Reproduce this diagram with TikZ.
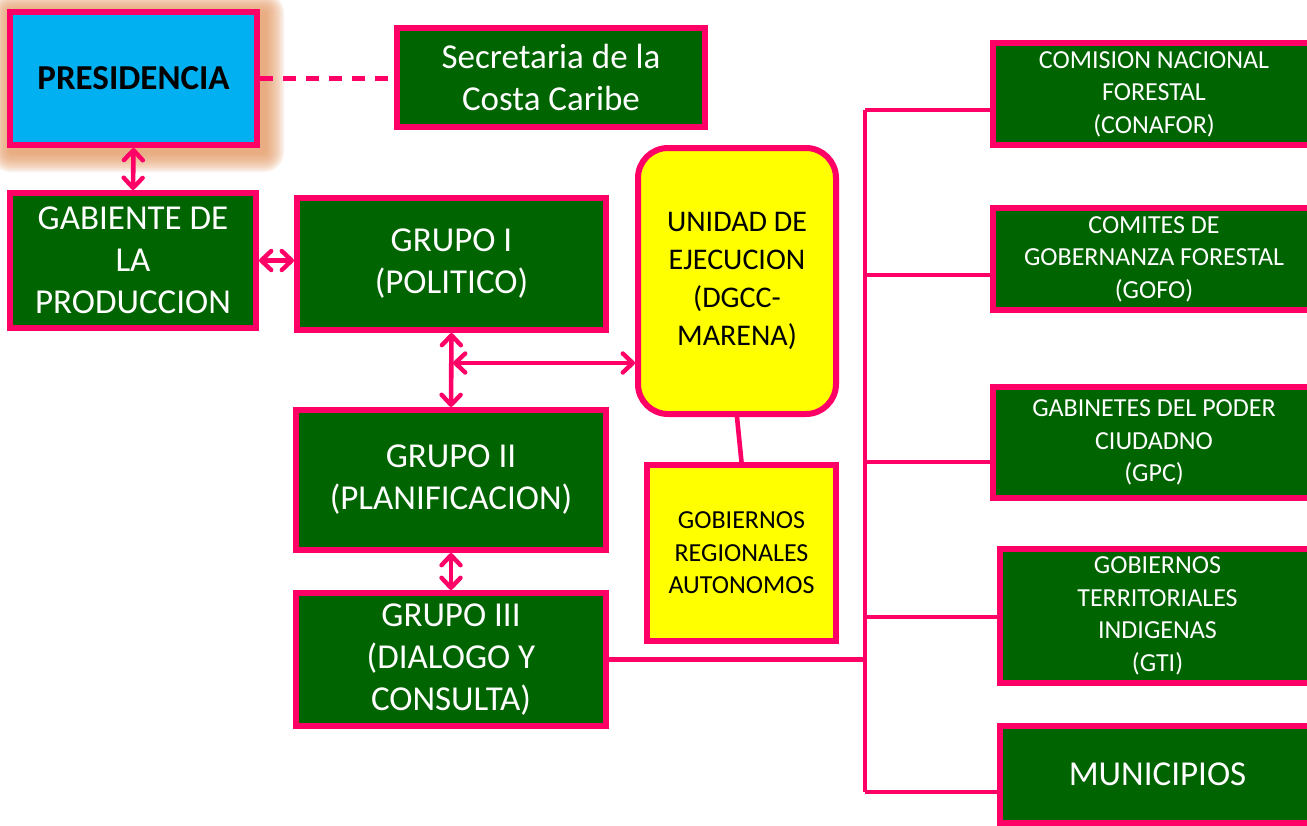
\documentclass[tikz,border=0pt]{standalone}
\usepackage{fontspec}
\setmainfont{Carlito}
\usetikzlibrary{arrows.meta,shadows,backgrounds}

\definecolor{rosa}{RGB}{255,0,102}
\definecolor{verde}{RGB}{0,100,0}
\definecolor{celeste}{RGB}{0,176,240}
\definecolor{amarillo}{RGB}{255,255,0}
\definecolor{brillo}{RGB}{226,150,95}

\newcommand{\letragrande}{\fontsize{35}{42}\selectfont}
\newcommand{\letramedia}{\fontsize{30}{38}\selectfont}
\newcommand{\letrachica}{\fontsize{26}{32.5}\selectfont}

\tikzset{
  caja/.style={draw=rosa, line width=6pt, inner sep=0pt, align=center},
  verdebox/.style={caja, fill=verde, text=white,
    drop shadow={shadow xshift=3pt, shadow yshift=-3pt, opacity=0.3}},
  amarillobox/.style={caja, fill=amarillo, text=black},
  enlace/.style={rosa, line width=4.6pt},
  doble/.style={enlace,
    {Straight Barb[length=10pt,width=19pt,line width=4.4pt,round]}-{Straight Barb[length=10pt,width=19pt,line width=4.4pt,round]}},
}

\begin{document}
\begin{tikzpicture}[x=1pt, y=-1pt]
        \useasboundingbox (0,0) rectangle (1307,825);

        % columna izquierda
        \node[caja, fill=celeste, minimum width=247pt, minimum height=133pt, font=\letragrande\bfseries] (pres) at (133.5,78.5) {PRESIDENCIA};
        \node[verdebox, minimum width=308pt, minimum height=99pt, font=\letragrande] (secr) at (551,77.5) {Secretaria de la\\Costa Caribe};
        \node[verdebox, minimum width=246pt, minimum height=135pt, font=\letragrande] (gab) at (133,260.5) {GABIENTE DE\\LA\\PRODUCCION};

        % grupos
        \node[verdebox, minimum width=309pt, minimum height=132pt, font=\letragrande] (grupoI) at (451.5,264) {GRUPO I\\(POLITICO)};
        \node[verdebox, minimum width=310pt, minimum height=140pt, font=\letragrande] (grupoII) at (451,480) {GRUPO II\\(PLANIFICACION)};
        \node[verdebox, minimum width=310pt, minimum height=133pt, font=\letragrande] (grupoIII) at (451,659.5) {GRUPO III\\(DIALOGO Y\\CONSULTA)};

        % unidad y gobiernos regionales
        \node[amarillobox, rounded corners=30pt, minimum width=198pt, minimum height=266pt, font=\letramedia] (unidad) at (737,281) {UNIDAD DE\\EJECUCION\\(DGCC-\\MARENA)};
        \node[amarillobox, minimum width=189pt, minimum height=176pt, font=\letrachica] (gra) at (741.5,553) {GOBIERNOS\\REGIONALES\\AUTONOMOS};

        % columna derecha
        \node[verdebox, minimum width=322pt, minimum height=102pt, font=\letrachica] (conafor) at (1154,94) {COMISION NACIONAL\\FORESTAL\\(CONAFOR)};
        \node[verdebox, minimum width=322pt, minimum height=102pt, font=\letrachica] (gofo) at (1154,259) {COMITES DE\\GOBERNANZA FORESTAL\\(GOFO)};
        \node[verdebox, minimum width=322pt, minimum height=111pt, font=\letrachica] (gpc) at (1154,442.5) {GABINETES DEL PODER\\CIUDADNO\\(GPC)};
        \node[verdebox, minimum width=315pt, minimum height=134pt, font=\letrachica] (gti) at (1157.5,616) {GOBIERNOS\\TERRITORIALES\\INDIGENAS\\(GTI)};
        \node[verdebox, minimum width=315pt, minimum height=97pt, font=\letragrande] (muni) at (1157.5,774.5) {MUNICIPIOS};

        % brillo de presidencia
        \begin{scope}[on background layer]
            \foreach \g in {2,4,...,20}
                \fill[brillo, opacity=0.14, rounded corners=\g pt]
                    ([xshift=-\g pt+4pt, yshift=\g pt-4pt]pres.north west) rectangle
                    ([xshift=\g pt+4pt, yshift=-\g pt-4pt]pres.south east);
        \end{scope}

        % conexiones
        \draw[enlace, dash pattern=on 13pt off 10pt] (pres.east) -- (pres.east -| secr.west);
        \draw[doble] (pres.south) -- (gab.north);
        \draw[doble] (gab.east) -- (gab.east -| grupoI.west);
        \draw[doble] (grupoI.south) -- (grupoII.north);
        \coordinate (cruce) at (453,363);
        \draw[doble] (cruce) -- (cruce -| unidad.west);
        \draw[enlace] (unidad.south) -- (gra.north);
        \draw[doble] (grupoII.south) -- (grupoIII.north);

        % barra derecha
        \coordinate (barraA) at (865,110);
        \coordinate (barraB) at (865,792);
        \draw[enlace] (barraA) -- (barraB);
        \draw[enlace] (grupoIII.east) -- (grupoIII.east -| barraA);
        \foreach \destino/\y in {conafor/110, gofo/275, gpc/462, gti/617, muni/792} {
            \coordinate (r\destino) at (865,\y);
            \draw[enlace] (r\destino) -- (r\destino -| \destino.west);
        }

    \end{tikzpicture}
\end{document}
